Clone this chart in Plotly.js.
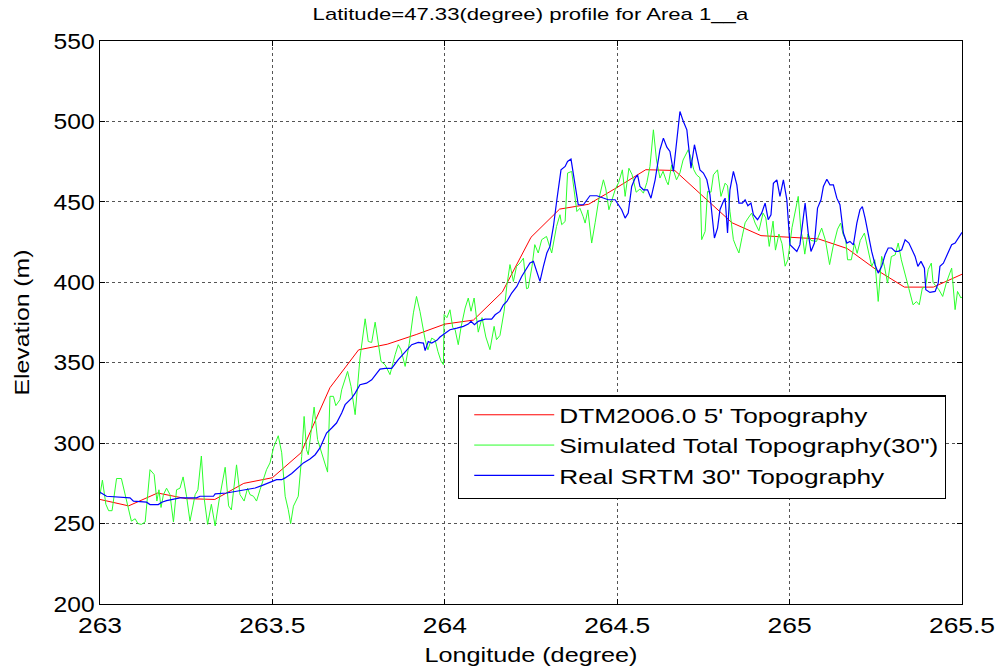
<!DOCTYPE html>
<html>
<head>
<meta charset="utf-8">
<script src="https://cdn.plot.ly/plotly-3.0.1.min.js"></script>
<style>html,body{margin:0;padding:0;background:#fff;}#chart{width:997px;height:666px;}</style>
</head>
<body>
<div id="chart"></div>
<script>
// DTM2006.0 5' topography (nodes every 5 arc-minutes)
const dtmLon = [263.000,263.083,263.167,263.250,263.333,263.417,263.500,263.583,263.667,263.750,263.833,263.917,264.000,264.083,264.167,264.250,264.333,264.417,264.500,264.583,264.667,264.750,264.833,264.917,265.000,265.083,265.167,265.250,265.333,265.417,265.500];
const dtmElev = [265,261,269,265.5,265,275,278.5,294,334.5,358,361.5,367.5,374,376.5,394,428,445.5,448.5,459,470,469.5,453,437,429,428,427,421,408,397,397,405];

// Simulated total topography (30")
const simLon = [263.000,263.007,263.017,263.025,263.035,263.048,263.062,263.077,263.091,263.102,263.110,263.120,263.131,263.145,263.157,263.165,263.171,263.177,263.184,263.193,263.203,263.213,263.222,263.232,263.241,263.251,263.261,263.276,263.284,263.294,263.302,263.312,263.323,263.334,263.345,263.363,263.373,263.381,263.396,263.406,263.418,263.428,263.435,263.445,263.454,263.464,263.474,263.483,263.493,263.503,263.517,263.527,263.537,263.546,263.553,263.561,263.575,263.585,263.592,263.599,263.604,263.614,263.621,263.631,263.645,263.660,263.667,263.677,263.684,263.696,263.701,263.718,263.728,263.740,263.754,263.769,263.778,263.788,263.798,263.807,263.815,263.827,263.841,263.856,263.865,263.873,263.885,263.897,263.909,263.918,263.928,263.943,263.951,263.962,263.972,263.980,263.989,263.996,263.998,264.006,264.015,264.023,264.030,264.039,264.047,264.059,264.068,264.076,264.085,264.097,264.108,264.119,264.131,264.143,264.150,264.160,264.172,264.180,264.189,264.199,264.208,264.218,264.228,264.237,264.242,264.253,264.261,264.271,264.281,264.295,264.302,264.310,264.324,264.334,264.339,264.349,264.356,264.368,264.383,264.392,264.401,264.407,264.415,264.426,264.436,264.447,264.460,264.467,264.476,264.485,264.494,264.504,264.515,264.523,264.534,264.543,264.555,264.566,264.576,264.586,264.595,264.605,264.614,264.624,264.633,264.643,264.648,264.658,264.665,264.672,264.682,264.691,264.706,264.713,264.722,264.730,264.740,264.745,264.755,264.762,264.772,264.779,264.791,264.801,264.813,264.820,264.827,264.837,264.845,264.853,264.862,264.871,264.880,264.890,264.900,264.911,264.923,264.931,264.941,264.952,264.959,264.969,264.978,264.987,264.995,265.007,265.025,265.033,265.039,265.044,265.053,265.062,265.078,265.093,265.104,265.116,265.126,265.139,265.148,265.155,265.163,265.168,265.179,265.188,265.196,265.205,265.217,265.227,265.238,265.247,265.257,265.267,265.275,265.284,265.295,265.306,265.315,265.324,265.335,265.346,265.358,265.368,265.376,265.385,265.394,265.402,265.411,265.416,265.423,265.433,265.444,265.455,265.470,265.480,265.487,265.497,265.500];
const simElev = [268,277,262,258,258,278,278,265,251.5,253,250,249.5,251,283.5,280.5,264,271,260,268,272,268,251,271,272,279,267,251.5,268,271,292,266,249.5,262,248.5,264,285,261,258.5,286.5,268,264,272,268,267,264,271,277,283.5,287.7,297,304.6,294,267,258.7,250,260.8,267,291.8,316.6,296,292.8,310.4,322.4,302.2,291.8,282,329.1,329.1,323.3,327,333.2,344.6,335.3,317.7,352.9,377.3,363.2,362.6,375.2,362.2,350.8,348.7,342.6,355,361.2,358,347.7,362,381,391.2,381.9,364.3,358,365.3,364,357,351,348.8,380,378,382.9,372,370.5,361.2,372,384,390.2,382,390.2,369,378,366,358.1,372.6,364.3,367,382,398,411,400.5,409.8,412,415,396,396.4,410,423.4,418.2,426.5,428.5,424,418.2,434.7,442,435.8,437.8,467.9,468.9,444,446,441,436.8,445,424.4,437,452,463.7,458,445.1,452,457.5,462,469.9,453.4,470.9,467,456,458,455.4,462,472,494.8,476,464.8,469,462.7,460.6,473,468,463.7,468,476,482.4,478,470,466.8,465,426.5,431.6,456.5,456,466.8,469.9,453.4,461.6,460,444.1,426.5,422,418.2,428,437,440,443,436.8,432,443,440,422.3,438,420,430,424,410,414,434,453.4,432,426,417.5,430,426,425.4,433.7,426,411,422,433,436.8,430,426,414,414,424,418,426,430.6,421,409.9,414,388.1,416.1,410,399.5,416,417,424.4,414,404,396,386,388,386,396.4,397,408,411.9,400,398,395.4,391.2,400,408.8,383,394.3,390.2,391];

// Real SRTM 30" topography
const srtmLon = [263.000,263.019,263.087,263.097,263.135,263.145,263.169,263.179,263.193,263.213,263.232,263.280,263.290,263.329,263.334,263.367,263.396,263.425,263.450,263.469,263.488,263.512,263.527,263.537,263.556,263.575,263.590,263.609,263.624,263.638,263.648,263.657,263.672,263.686,263.701,263.711,263.730,263.740,263.754,263.773,263.788,263.800,263.812,263.827,263.846,263.865,263.885,263.904,263.923,263.938,263.943,263.952,263.962,263.977,263.986,264.001,264.015,264.035,264.054,264.068,264.076,264.086,264.097,264.117,264.136,264.146,264.160,264.170,264.180,264.194,264.209,264.223,264.238,264.247,264.257,264.267,264.276,264.286,264.296,264.305,264.315,264.325,264.337,264.349,264.356,264.366,264.378,264.387,264.402,264.412,264.421,264.441,264.460,264.474,264.494,264.513,264.523,264.532,264.542,264.552,264.559,264.566,264.576,264.588,264.598,264.610,264.624,264.634,264.644,264.653,264.663,264.673,264.682,264.692,264.702,264.706,264.714,264.724,264.731,264.740,264.750,264.760,264.769,264.782,264.791,264.798,264.808,264.813,264.820,264.827,264.837,264.847,264.853,264.863,264.871,264.879,264.888,264.895,264.907,264.919,264.929,264.938,264.946,264.953,264.963,264.972,264.982,264.992,265.001,265.011,265.021,265.030,265.045,265.054,265.062,265.072,265.081,265.091,265.098,265.108,265.117,265.127,265.137,265.146,265.156,265.166,265.175,265.185,265.195,265.204,265.211,265.219,265.228,265.238,265.248,265.257,265.267,265.277,265.286,265.296,265.306,265.315,265.325,265.335,265.346,265.354,265.364,265.372,265.381,265.391,265.395,265.407,265.422,265.431,265.436,265.446,265.456,265.470,265.480,265.497,265.500];
const srtmElev = [269.5,267,266,263.9,263.3,261.8,261.8,263.3,264.3,265.4,266,266,267,267,268.5,269,270,271,272.1,273.6,275.2,277.3,277.3,278.4,281.1,284.6,287.7,290.2,292.8,297,302.2,306.3,309.4,312.5,318.7,323.9,328,331.1,336.3,337.3,339.4,343.1,346,346.5,346.5,351.9,357,361.2,362.6,362.2,357.5,363.2,362.2,363.9,366,368.4,370.5,371.5,372.6,374,375.7,373.6,375.7,377.1,377.1,379.8,381.9,386,388.1,393.3,397.4,403.6,409,412,413,405.8,400.6,409.9,418.2,422.3,434.7,451.3,469.9,472,475.1,476.6,461.6,448.2,448.2,451.3,453.8,453.8,452.3,451.3,451.3,445.1,439.9,443,459.6,464.8,466.8,459.6,457.5,457.5,452.3,463.7,482.4,489.6,484,481.3,468.9,490.6,506.2,499.9,494.8,486.5,471,485.5,478.2,469.9,467.9,463.7,454.4,427.5,433.7,445.1,450.3,452.3,430.6,457.5,468.9,460.6,449.2,449.2,451.3,447.6,449.2,442,438.9,443,449.2,438.9,442,461.6,463.7,453.4,463.7,451.3,423.4,421.3,419.2,423.4,449.2,430.6,419.2,424.4,446.1,451.3,459.6,464.1,460.6,460.6,452.3,448.2,430.6,424.4,425.4,423.3,436.8,445.1,447.1,439.9,429.5,419.2,410.9,405.7,409.9,417.1,421.3,421.3,419.2,419.2,420.2,426.4,424.4,420.2,416.1,409.9,413,408.8,395.4,393.7,394.3,399.5,409.9,411.9,417.1,423.3,424.4,430.6,431];

const xTicks = [263, 263.5, 264, 264.5, 265, 265.5];
const xTickText = ['263', '263.5', '264', '264.5', '265', '265.5'];
const yTicks = [200, 250, 300, 350, 400, 450, 500, 550];

const FONT = 'Liberation Sans, Arial, sans-serif';

const traces = [
  {x: dtmLon, y: dtmElev, type: 'scatter', mode: 'lines', name: "DTM2006.0 5' Topography",
   line: {color: '#ff0000', width: 1}},
  {x: simLon, y: simElev, type: 'scatter', mode: 'lines', name: 'Simulated Total Topography(30")',
   line: {color: '#2bff2b', width: 1}},
  {x: srtmLon, y: srtmElev, type: 'scatter', mode: 'lines', name: 'Real SRTM 30" Topography',
   line: {color: '#0000ff', width: 1.2}}
];

const axisCommon = {
  showline: true, mirror: 'ticks', linecolor: '#000', linewidth: 1,
  ticks: 'inside', ticklen: 5, tickcolor: '#000', tickwidth: 1,
  showgrid: true, gridcolor: '#555', griddash: 'dot', gridwidth: 1,
  zeroline: false, automargin: false, tickfont: {family: FONT, size: 22, color: '#000'}
};

const layout = {
  width: 997, height: 666,
  paper_bgcolor: '#fff', plot_bgcolor: '#fff',
  margin: {l: 100, r: 35, t: 41, b: 62},
  title: {text: 'Latitude=47.33(degree) profile for Area 1__a', x: 0.532, xanchor: 'center', y: 0.979, yanchor: 'middle',
          font: {family: FONT, size: 17, color: '#000'}},
  xaxis: Object.assign({}, axisCommon, {
    range: [263, 265.5], tickvals: xTicks, ticktext: xTickText, ticklabelstandoff: 2,
    title: {text: 'Longitude (degree)', font: {family: FONT, size: 21, color: '#000'}, standoff: 10}
  }),
  yaxis: Object.assign({}, axisCommon, {
    range: [200, 550], tickvals: yTicks,
    title: {text: 'Elevation (m)', font: {family: FONT, size: 21, color: '#000'}, standoff: 22}
  }),
  showlegend: true,
  legend: {x: 0.415, y: 0.371, xanchor: 'left', yanchor: 'top', bgcolor: '#fff',
           bordercolor: '#000', borderwidth: 1.5, itemwidth: 80,
           font: {family: FONT, size: 21, color: '#000'}, tracegroupgap: 0}
};

// horizontal stretch of the text (the reference glyphs are wider than Arial)
function stretch(root, sel, f) {
  root.querySelectorAll(sel).forEach(t => {
    const w = t.getComputedTextLength();
    if (w > 0) {
      t.setAttribute('textLength', (w * f).toFixed(1));
      t.setAttribute('lengthAdjust', 'spacingAndGlyphs');
    }
  });
}

Plotly.newPlot('chart', traces, layout, {displayModeBar: false, staticPlot: true}).then(gd => {
  stretch(gd, '.xtick text', 1.2);
  stretch(gd, '.ytick text', 1.12);
  stretch(gd, '.g-xtitle text', 1.2);
  stretch(gd, '.g-ytitle text', 1.18);
  stretch(gd, '.g-gtitle text', 1.3);
  stretch(gd, '.legend .legendtext', 1.25);
  // legend box: wider, entries indented as in the reference
  const legendWidth = 487;
  const bg = gd.querySelector('.legend rect.bg');
  if (bg) {
    bg.setAttribute('width', legendWidth);
    const sb = gd.querySelector('.legend .scrollbox');
    const cp = sb && sb.getAttribute('clip-path');
    if (cp) {
      const id = cp.replace(/^url\(['"]?#/, '').replace(/['"]?\)$/, '');
      const r = document.getElementById(id);
      const rr = r && r.querySelector('rect');
      if (rr) rr.setAttribute('width', legendWidth + 10);
    }
    gd.querySelectorAll('.legend .traces').forEach(g => {
      const m = /translate\(\s*([-\d.]+)[ ,]+([-\d.]+)\s*\)/.exec(g.getAttribute('transform') || '');
      if (m) g.setAttribute('transform', 'translate(' + (parseFloat(m[1]) + 10) + ',' + (parseFloat(m[2]) - 2) + ')');
    });
  }
});
</script>
</body>
</html>
